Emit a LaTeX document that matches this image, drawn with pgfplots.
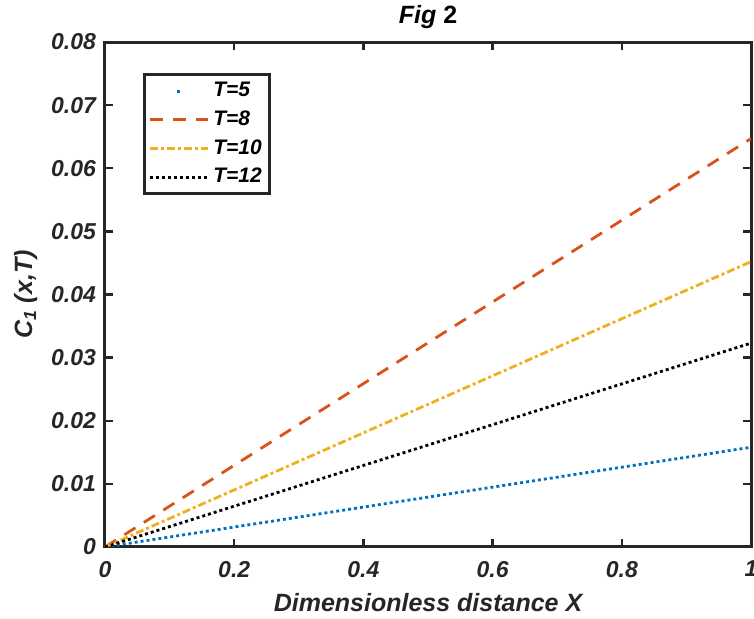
\documentclass[border=0pt]{standalone}
\usepackage{pgfplots}
\pgfplotsset{compat=1.18}
\usepackage{fontspec}
\setmainfont{Liberation Sans}
\definecolor{mblue}{rgb}{0,0.447,0.741}
\definecolor{morange}{rgb}{0.85,0.325,0.098}
\definecolor{myellow}{rgb}{0.929,0.694,0.125}
\begin{document}
\begin{tikzpicture}
\begin{axis}[
  scale only axis, width=323pt, height=252.5pt,
  xmin=0, xmax=1, ymin=0, ymax=0.08,
  scaled y ticks=false, scaled x ticks=false,
  axis line style={line width=1.5pt, black!85},
  tick style={line width=1.2pt, black!85},
  tick align=inside, major tick length=4pt,
  xtick pos=both, ytick pos=both,
  xtick={0,0.2,0.4,0.6,0.8,1},
  xticklabels={0,0.2,0.4,0.6,0.8,1},
  ytick={0,0.01,0.02,0.03,0.04,0.05,0.06,0.07,0.08},
  yticklabels={0,0.01,0.02,0.03,0.04,0.05,0.06,0.07,0.08},
  tick label style={font=\fontsize{11.5}{13}\selectfont\bfseries\itshape, text=black!85},
  xticklabel style={yshift=-3.5pt},
  yticklabel style={xshift=-1pt},
  /pgf/number format/assume math mode=true,
  xlabel={Dimensionless distance X},
  ylabel={C\textsubscript{1} (x,T)},
  label style={font=\fontsize{12.5}{15}\selectfont\bfseries\itshape, text=black!85},
  xlabel style={yshift=-1pt},
  title={\textit{Fig} 2},
  title style={font=\fontsize{12.5}{15}\selectfont\bfseries, yshift=-3pt},
  legend style={at={(0.0588,0.9386)}, anchor=north west, draw=black!85, line width=1.5pt,
    font=\fontsize{10.5}{12}\selectfont\bfseries\itshape, inner sep=2pt, row sep=1.5pt},
  legend cell align=left,
  legend image code/.code={\draw[#1] (0pt,0pt) -- (29pt,0pt);},
]
\addplot[mblue, line width=1.4pt, dash pattern=on 1.5pt off 1.5pt,
  legend image post style={dash pattern=on 0pt off 13.75pt on 1.5pt off 30pt}] coordinates {(0,0) (1,0.0158)};
\addlegendentry{T=5}
\addplot[morange, line width=1.4pt, dash pattern=on 6.5pt off 5pt] coordinates {(0,0) (1,0.0647)};
\addlegendentry{T=8}
\addplot[myellow, line width=1.4pt, dash pattern=on 4pt off 1.5pt on 1.5pt off 1.5pt] coordinates {(0,0) (1,0.0452)};
\addlegendentry{T=10}
\addplot[black, line width=1.4pt, dash pattern=on 1.5pt off 1.5pt] coordinates {(0,0) (1,0.0323)};
\addlegendentry{T=12}
\end{axis}
\pgfresetboundingbox
\path (current axis.south west) ++(-52.5pt,-36pt) rectangle ++(377pt,309.5pt);
\end{tikzpicture}
\end{document}
